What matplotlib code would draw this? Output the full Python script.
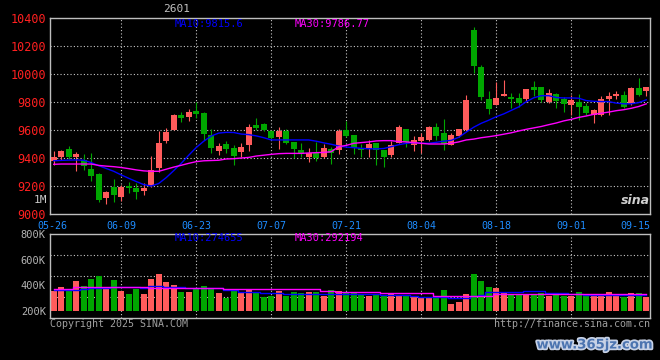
import numpy as np
import matplotlib
matplotlib.use("Agg")
import matplotlib.pyplot as plt
import matplotlib.patheffects as pe

plt.rcParams['font.family'] = ['DejaVu Sans Mono']

# 日付ラベル
tick_idx = [0, 9, 19, 29, 39, 49, 59, 69, 79]
tick_lbl = ['05-26', '06-09', '06-23', '07-07', '07-21', '08-04', '08-18', '09-01', '09-15']

# ローソク足 (open, close, high, low)
opens = [9380, 9405, 9464, 9410, 9386, 9321, 9286, 9114, 9190, 9124,
         9200, 9186, 9166, 9200, 9326, 9524, 9602, 9707, 9693, 9736,
         9721, 9564, 9453, 9500, 9470, 9441, 9493, 9636, 9643, 9593,
         9548, 9595, 9514, 9457, 9410, 9438, 9410, 9462, 9457, 9600,
         9564, 9469, 9464, 9505, 9457, 9421, 9505, 9607, 9493, 9524,
         9529, 9624, 9576, 9493, 9557, 9600, 10314, 10052, 9821, 9779,
         9840, 9836, 9829, 9821, 9905, 9905, 9803, 9855, 9821, 9779,
         9803, 9771, 9707, 9707, 9821, 9843, 9850, 9786, 9900, 9881]
closes = [9405, 9450, 9405, 9429, 9345, 9271, 9100, 9157, 9136, 9190,
          9188, 9155, 9183, 9314, 9505, 9586, 9707, 9688, 9731, 9714,
          9571, 9474, 9488, 9464, 9417, 9481, 9621, 9617, 9600, 9545,
          9595, 9505, 9467, 9433, 9438, 9398, 9471, 9438, 9595, 9557,
          9474, 9457, 9498, 9457, 9405, 9493, 9624, 9517, 9529, 9548,
          9624, 9557, 9500, 9564, 9605, 9814, 10059, 9838, 9750, 9832,
          9855, 9821, 9793, 9893, 9886, 9814, 9864, 9810, 9786, 9814,
          9767, 9719, 9743, 9821, 9840, 9857, 9767, 9900, 9850, 9905]
highs = [9450, 9455, 9486, 9445, 9429, 9438, 9293, 9165, 9250, 9207,
         9231, 9224, 9219, 9414, 9593, 9612, 9714, 9731, 9750, 9800,
         9725, 9605, 9505, 9518, 9493, 9505, 9643, 9688, 9648, 9600,
         9624, 9607, 9514, 9510, 9474, 9512, 9500, 9476, 9607, 9664,
         9564, 9500, 9529, 9505, 9460, 9518, 9633, 9610, 9557, 9576,
         9630, 9648, 9681, 9581, 9608, 9850, 10333, 10064, 9875, 9940,
         9955, 9864, 9864, 9895, 9950, 9910, 9890, 9862, 9836, 9850,
         9860, 9790, 9750, 9843, 9868, 9875, 9879, 9905, 9969, 9910]
lows = [9350, 9385, 9393, 9310, 9314, 9238, 9088, 9072, 9083, 9095,
        9150, 9107, 9136, 9195, 9302, 9505, 9600, 9660, 9667, 9683,
        9530, 9433, 9421, 9438, 9350, 9410, 9450, 9600, 9590, 9535,
        9464, 9500, 9400, 9410, 9374, 9381, 9403, 9357, 9429, 9550,
        9429, 9410, 9410, 9350, 9333, 9410, 9505, 9481, 9450, 9438,
        9520, 9529, 9457, 9490, 9550, 9590, 10010, 9814, 9714, 9779,
        9840, 9757, 9767, 9803, 9845, 9800, 9790, 9757, 9731, 9707,
        9671, 9710, 9648, 9700, 9707, 9821, 9760, 9780, 9840, 9840]

# 移動平均 (価格)
ma10 = [9380, 9383, 9385, 9386, 9384, 9367, 9345, 9325, 9305, 9279,
        9255, 9232, 9210, 9200, 9218, 9260, 9310, 9362, 9420, 9475,
        9520, 9557, 9578, 9583, 9582, 9571, 9567, 9558, 9545, 9529,
        9529, 9529, 9529, 9529, 9529, 9520, 9508, 9498, 9485, 9478,
        9474, 9469, 9466, 9465, 9468, 9481, 9495, 9505, 9510, 9505,
        9505, 9512, 9520, 9526, 9548, 9585, 9620, 9648, 9670, 9695,
        9715, 9740, 9765, 9802, 9830, 9845, 9845, 9832, 9829, 9829,
        9827, 9810, 9805, 9803, 9803, 9792, 9787, 9787, 9796, 9815.6]
ma30 = [9355, 9357, 9357, 9357, 9357, 9357, 9347, 9342, 9338, 9332,
        9324, 9315, 9308, 9305, 9305, 9320, 9335, 9348, 9362, 9374,
        9380, 9382, 9384, 9393, 9395, 9400, 9404, 9414, 9420, 9426,
        9431, 9433, 9433, 9433, 9436, 9438, 9440, 9445, 9481, 9490,
        9505, 9510, 9515, 9522, 9524, 9524, 9517, 9515, 9510, 9505,
        9500, 9500, 9500, 9505, 9515, 9529, 9535, 9545, 9552, 9560,
        9570, 9580, 9593, 9605, 9615, 9625, 9638, 9650, 9665, 9676,
        9690, 9700, 9712, 9720, 9728, 9738, 9745, 9755, 9768, 9786.77]

# 出来高 (K)
vol = [356, 389, 358, 434, 395, 449, 473, 389, 441, 358,
       332, 369, 332, 449, 488, 428, 403, 350, 350, 369,
       395, 377, 343, 304, 358, 338, 369, 343, 311, 319,
       358, 319, 350, 343, 350, 350, 319, 362, 356, 343,
       343, 332, 319, 325, 325, 338, 325, 319, 311, 311,
       304, 299, 364, 255, 273, 332, 488, 434, 389, 377,
       350, 325, 325, 332, 332, 338, 319, 325, 319, 317,
       348, 319, 319, 319, 348, 319, 311, 338, 338, 311]
vol_ma10 = [364, 364, 364, 366, 372, 377, 377, 377, 385, 389,
            389, 389, 377, 395, 395, 389, 389, 389, 381, 381,
            377, 377, 377, 364, 360, 350, 350, 350, 340, 338,
            338, 333, 332, 332, 332, 332, 332, 332, 332, 332,
            332, 332, 332, 332, 325, 325, 325, 325, 320, 307,
            307, 307, 307, 299, 299, 299, 320, 325, 345, 350,
            345, 345, 345, 355, 358, 358, 343, 343, 340, 332,
            332, 322, 322, 322, 322, 322, 322, 322, 322, 322]
vol_ma30 = [371, 371, 375, 384, 384, 384, 384, 384, 384, 384,
            384, 384, 384, 381, 381, 381, 381, 381, 381, 381,
            381, 381, 381, 370, 369, 369, 369, 369, 369, 369,
            369, 369, 369, 369, 369, 369, 358, 358, 350, 350,
            350, 350, 350, 350, 338, 338, 338, 338, 338, 338,
            338, 319, 319, 319, 319, 319, 319, 319, 319, 332,
            332, 332, 332, 332, 332, 332, 332, 332, 332, 332,
            332, 332, 332, 332, 332, 332, 332, 332, 332, 332]

RED = '#FF5B5B'
GREEN = '#00A600'
GRID = '#C8C8C8'
n = len(opens)
x = np.arange(n)
o = np.array(opens)
c = np.array(closes)
colors = [RED if cc >= oo else GREEN for oo, cc in zip(o, c)]

fig = plt.figure(figsize=(6.6, 3.6), dpi=100, facecolor='black')
ax1 = fig.add_axes([50/660, 1-214/360, 600/660, 196/360])
ax2 = fig.add_axes([50/660, 1-318/360, 600/660, 84/360])

for ax in (ax1, ax2):
    ax.set_facecolor('black')
    ax.set_xlim(-0.5, n-0.5)
    for s in ax.spines.values():
        s.set_color('#BEBEBE')
        s.set_linewidth(1)
    ax.set_xticks([])
    ax.tick_params(axis='y', length=0, pad=3)
    for t in tick_idx[1:-1]:
        ax.axvline(t, color=GRID, lw=0.8, ls=(0, (1, 2)), zorder=0)

# 価格
ax1.set_ylim(9000, 10400)
ax1.set_yticks(np.arange(9000, 10401, 200))
ax1.set_yticklabels([str(v) for v in range(9000, 10401, 200)], color='#FF2020', fontsize=8.5)
for lab in ax1.get_yticklabels():
    lab.set_verticalalignment('center_baseline')
for v in range(9200, 10400, 200):
    ax1.axhline(v, color=GRID, lw=0.8, ls=(0, (1, 2)), zorder=0)
ax1.vlines(x, lows, highs, colors=colors, lw=0.8, zorder=2)
ax1.bar(x, np.maximum(np.abs(c-o), 6), bottom=np.minimum(o, c), width=0.8,
        color=colors, zorder=3)
ax1.plot(x, ma10, color='#0000FF', lw=1, zorder=4)
ax1.plot(x, ma30, color='#FF00FF', lw=1, zorder=4)

for t, lbl in zip(tick_idx, tick_lbl):
    ha = 'right' if t == tick_idx[-1] else 'center'
    xt = n-0.5 if t == tick_idx[-1] else (-0.2 if t == 0 else t)
    ax1.text(xt, -0.06, lbl, transform=ax1.get_xaxis_transform(), ha=ha,
             va='center', color='#1E8CFF', fontsize=7.2)

# 出来高
v = np.array(vol) * 1000
ax2.set_ylim(145500, 800000)
ax2.set_yticks([200000, 400000, 600000, 800000])
ax2.set_yticklabels(['200K', '400K', '600K', '800K'], color='#B4B4B4', fontsize=7.5)
for f in (0.25, 0.5, 0.75):
    ax2.plot([0, 1], [f, f], transform=ax2.transAxes, color=GRID, lw=0.8,
             ls=(0, (1, 2)), zorder=0)
ax2.bar(x, v-200000, bottom=200000, width=0.8, color=colors, zorder=2)
ax2.plot(x, np.array(vol_ma10)*1000, color='#0000FF', lw=1, drawstyle='steps-mid', zorder=3)
ax2.plot(x, np.array(vol_ma30)*1000, color='#FF00FF', lw=1, drawstyle='steps-mid', zorder=3)

# テキスト
fig.text(177/660, 1-9/360, '2601', ha='center', va='center', color='#C0C0C0', fontsize=8)
fig.text(175/660, 1-24/360, 'MA10:9815.6', va='center', color='#0000FF', fontsize=7.5)
fig.text(295/660, 1-24/360, 'MA30:9786.77', va='center', color='#FF00FF', fontsize=7.5)
fig.text(175/660, 1-238/360, 'MA10:274655', va='center', color='#0000FF', fontsize=7.5)
fig.text(295/660, 1-238/360, 'MA30:292194', va='center', color='#FF00FF', fontsize=7.5)
fig.text(47/660, 1-200/360, '1M', ha='right', va='center', color='#C8C8C8', fontsize=8)
fig.text(50/660, 1-324/360, 'Copyright 2025 SINA.COM', va='center', color='#A0A0A0', fontsize=7.2)
fig.text(650/660, 1-324/360, 'http://finance.sina.com.cn', ha='right', va='center',
         color='#A0A0A0', fontsize=7.2)
fig.text(635/660, 1-200/360, 'sina', ha='center', va='center', color='#D0D0D0',
         fontsize=9, style='italic', weight='bold', family='DejaVu Sans')
wm = fig.text(595/660, 1-345/360, 'www.365jz.com', ha='center', va='center',
              color='#4C74B0', fontsize=9.5, weight='bold', family='DejaVu Sans')
wm.set_path_effects([pe.withStroke(linewidth=2.5, foreground='#C8D2E6')])

fig.savefig('out.png', dpi=100, facecolor='black')
